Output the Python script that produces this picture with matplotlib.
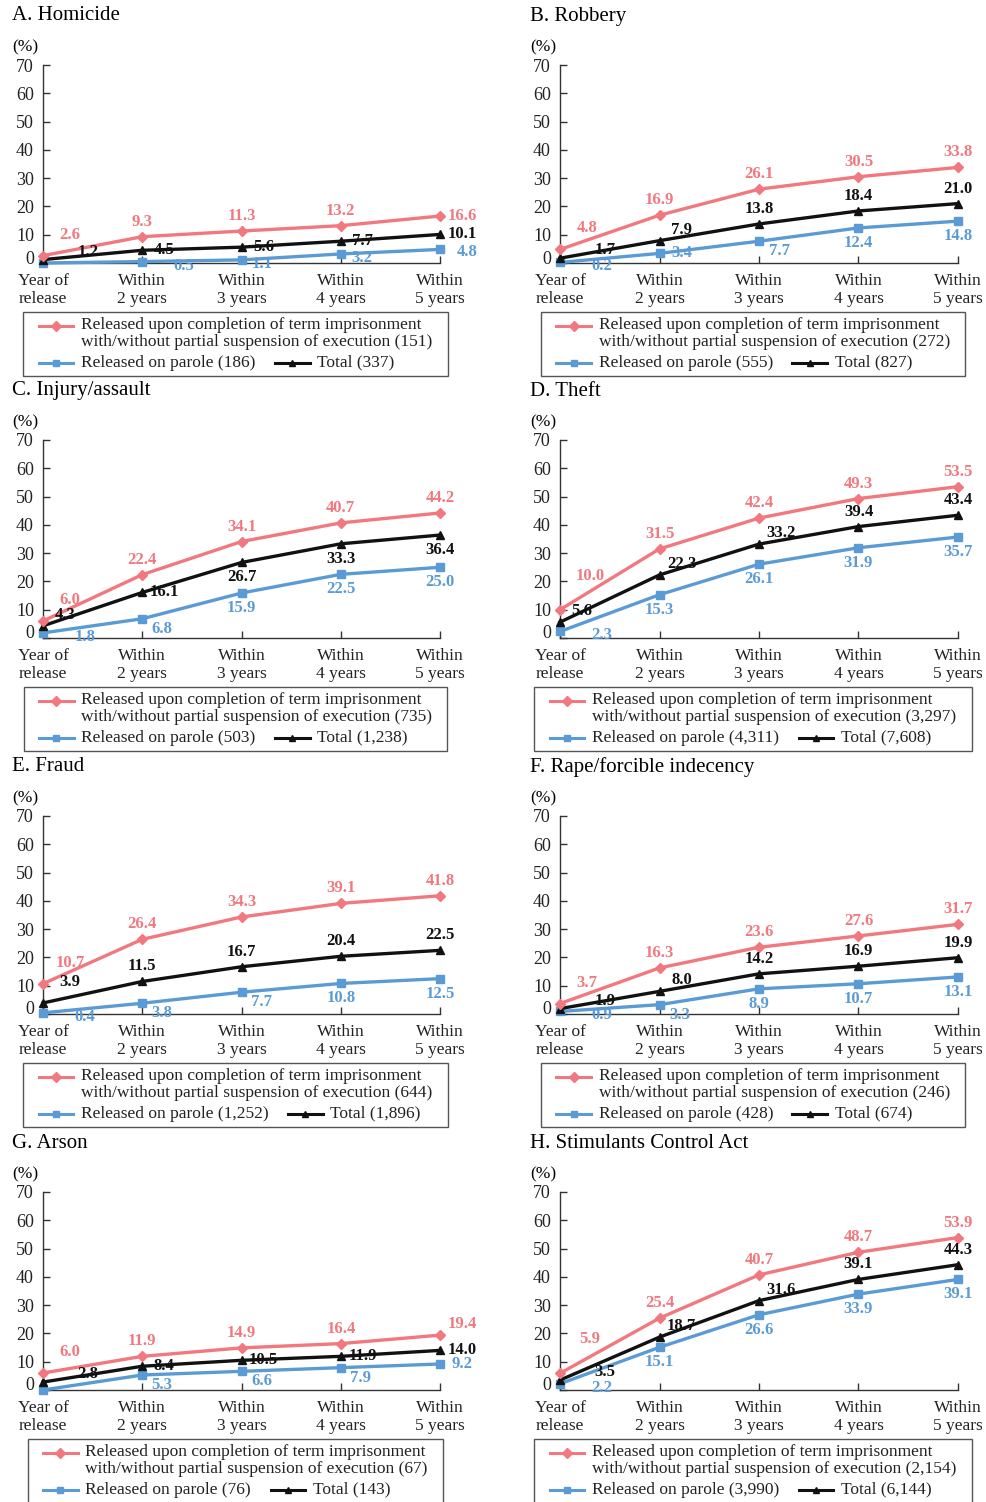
import matplotlib.pyplot as plt
from matplotlib.lines import Line2D
from matplotlib.offsetbox import AnchoredOffsetbox, DrawingArea, HPacker, TextArea, VPacker

plt.rcParams['font.family'] = ['Liberation Serif', 'DejaVu Serif']

# --- data ---
periods = ['Year of\nrelease', 'Within\n2 years', 'Within\n3 years', 'Within\n4 years', 'Within\n5 years']
titles = ['A. Homicide', 'B. Robbery', 'C. Injury/assault', 'D. Theft',
          'E. Fraud', 'F. Rape/forcible indecency', 'G. Arson', 'H. Stimulants Control Act']

completion = [
    [2.6, 9.3, 11.3, 13.2, 16.6],
    [4.8, 16.9, 26.1, 30.5, 33.8],
    [6.0, 22.4, 34.1, 40.7, 44.2],
    [10.0, 31.5, 42.4, 49.3, 53.5],
    [10.7, 26.4, 34.3, 39.1, 41.8],
    [3.7, 16.3, 23.6, 27.6, 31.7],
    [6.0, 11.9, 14.9, 16.4, 19.4],
    [5.9, 25.4, 40.7, 48.7, 53.9],
]
parole = [
    [0.0, 0.5, 1.1, 3.2, 4.8],
    [0.2, 3.4, 7.7, 12.4, 14.8],
    [1.8, 6.8, 15.9, 22.5, 25.0],
    [2.3, 15.3, 26.1, 31.9, 35.7],
    [0.4, 3.8, 7.7, 10.8, 12.5],
    [0.9, 3.3, 8.9, 10.7, 13.1],
    [0.0, 5.3, 6.6, 7.9, 9.2],
    [2.2, 15.1, 26.6, 33.9, 39.1],
]
total = [
    [1.2, 4.5, 5.6, 7.7, 10.1],
    [1.7, 7.9, 13.8, 18.4, 21.0],
    [4.3, 16.1, 26.7, 33.3, 36.4],
    [5.6, 22.3, 33.2, 39.4, 43.4],
    [3.9, 11.5, 16.7, 20.4, 22.5],
    [1.9, 8.0, 14.2, 16.9, 19.9],
    [2.8, 8.4, 10.5, 11.9, 14.0],
    [3.5, 18.7, 31.6, 39.1, 44.3],
]
completion_n = ['151', '272', '735', '3,297', '644', '246', '67', '2,154']
parole_n = ['186', '555', '503', '4,311', '1,252', '428', '76', '3,990']
total_n = ['337', '827', '1,238', '7,608', '1,896', '674', '143', '6,144']

# --- label placement codes (style only): offsets in pixels ---
offsets = {'a': (0, 15), 'b': (0, -15), 'r': (22, 0), 'u': (22, 11), 'd': (20, -10),
           'e': (21, -4), 'R': (27, -3),
           'U': (27, 21), 'V': (30, 34), 'M': (45, 8), 'N': (42, -4)}
pos_red = ['Uaaar', 'Uaaaa', 'Uaaaa', 'Vaaaa', 'Uaaaa', 'Uaaaa', 'Uaaau', 'Vaaaa']
pos_blue = ['-NeeR', 'Nrdbb', 'Ndbbb', 'Nbbbb', 'Nddbb', 'Ndbbb', '-dddr', 'Nbbbb']
pos_black = ['Mrrrr', 'Muaaa', 'urbbb', 'uuuaa', 'Uaaaa', 'Muaaa', 'Mrrrr', 'Muuaa']

RED = '#F2787F'
BLUE = '#5B9BD5'
BLACK = '#111111'

W, H = 987, 1502
fig = plt.figure(figsize=(W / 100, H / 100), dpi=100)


def fx(x):
    return x / W


def fy(y):
    return 1 - y / H


col_left = [43, 560]
col_right = [440, 958]
text_x = [12, 530]
row_top = [65, 440, 816, 1192]
x = list(range(len(periods)))


def sample(color, marker, ms):
    da = DrawingArea(26, 13, 0, 0)
    da.add_artist(Line2D([0, 25], [6.5, 6.5], color=color, lw=2.2))
    da.add_artist(Line2D([12.5], [6.5], color=color, marker=marker, ms=ms, lw=0))
    return da


def label_points(ax, vals, codes, color):
    for i, (v, c) in enumerate(zip(vals, codes)):
        if c == '-':
            continue
        dx, dy = offsets[c]
        ax.annotate(f'{v:.1f}', (i, v), xytext=(dx, dy), textcoords='offset pixels',
                    ha='center', va='center', color=color, fontsize=12,
                    fontweight='bold', annotation_clip=False, zorder=5)


for k in range(8):
    r, c = divmod(k, 2)
    left, right = col_left[c], col_right[c]
    top = row_top[r]
    bottom = top + 198
    ax = fig.add_axes([fx(left), fy(bottom), (right - left) / W, 198 / H])

    ax.plot(x, parole[k], color=BLUE, lw=2.4, marker='s', ms=6, clip_on=False, zorder=3)
    ax.plot(x, total[k], color=BLACK, lw=2.4, marker='^', ms=5.5, clip_on=False, zorder=3)
    ax.plot(x, completion[k], color=RED, lw=2.4, marker='D', ms=5.5, clip_on=False, zorder=3)

    label_points(ax, completion[k], pos_red[k], RED)
    label_points(ax, parole[k], pos_blue[k], BLUE)
    label_points(ax, total[k], pos_black[k], BLACK)

    ax.set_xlim(0, 4)
    ax.set_ylim(0, 70)
    ax.set_xticks(x)
    ax.set_xticklabels(periods, fontsize=12.5, linespacing=1.1, color='#222222')
    ax.set_yticks(range(0, 71, 10))
    ax.set_yticklabels([''] + [str(v) for v in range(10, 71, 10)], fontsize=13, color='#222222')
    ax.annotate('0', (0, 0), xycoords=('axes fraction', 'data'), xytext=(-9, 4),
                textcoords='offset pixels', ha='right', va='center', fontsize=13,
                color='#222222', annotation_clip=False)
    ax.tick_params(axis='both', direction='in', length=5, width=1, color='#333333')
    ax.tick_params(axis='y', pad=6.5)
    ax.tick_params(axis='x', pad=7.5)
    for s in ['top', 'right']:
        ax.spines[s].set_visible(False)
    for s in ['left', 'bottom']:
        ax.spines[s].set_color('#333333')
        ax.spines[s].set_linewidth(1)

    fig.text(fx(text_x[c]), fy(top - 49), titles[k], fontsize=15, ha='left', va='center')
    fig.text(fx(text_x[c]), fy(top - 18), '(%)', fontsize=12.5, ha='left', va='center')

    # legend box
    tp = dict(fontsize=12.5, linespacing=1.1, color='#222222')
    row1 = HPacker(children=[DrawingArea(3, 1, 0, 0), sample(RED, 'D', 5),
                             TextArea('Released upon completion of term imprisonment\n'
                                      f'with/without partial suspension of execution ({completion_n[k]})',
                                      textprops=tp),
                             DrawingArea(3, 1, 0, 0)],
                   align='top', pad=0, sep=4.5)
    row2 = HPacker(children=[DrawingArea(3, 1, 0, 0), sample(BLUE, 's', 5),
                             TextArea(f'Released on parole ({parole_n[k]})', textprops=tp),
                             DrawingArea(5, 1, 0, 0),
                             sample(BLACK, '^', 5),
                             TextArea(f'Total ({total_n[k]})', textprops=tp)],
                   align='center', pad=0, sep=4.5)
    box = VPacker(children=[row1, row2], align='left', pad=0, sep=2.5)
    cx = (left + right) / 2 - 6
    anch = AnchoredOffsetbox(loc='upper center', child=box, pad=0.35, borderpad=0,
                             frameon=True, prop=dict(size=10),
                             bbox_to_anchor=(fx(cx), fy(bottom + 49)),
                             bbox_transform=fig.transFigure)
    anch.patch.set_boxstyle('square', pad=0)
    anch.patch.set_edgecolor('#555555')
    anch.patch.set_linewidth(1)
    fig.add_artist(anch)

fig.savefig('out.png', dpi=100)
